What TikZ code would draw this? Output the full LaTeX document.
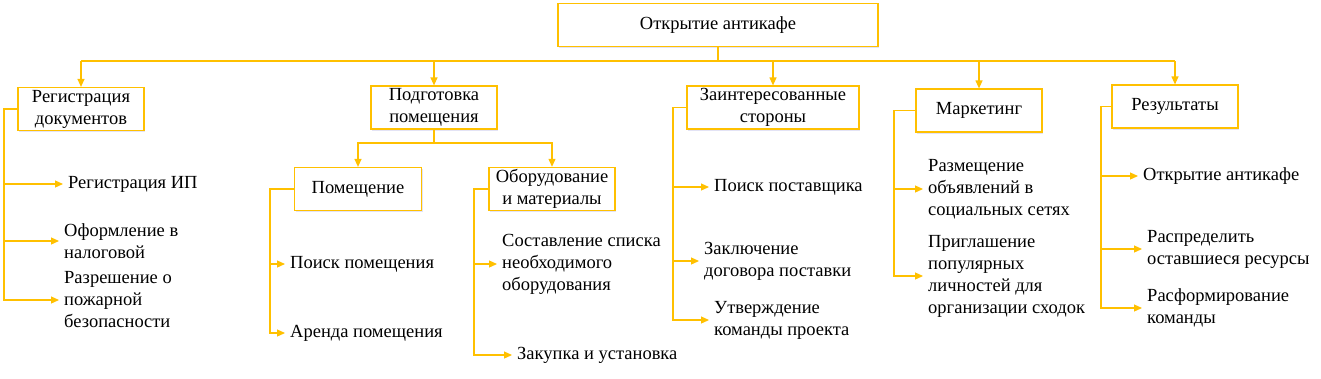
\documentclass[tikz,border=0pt]{standalone}
\usepackage{fontspec}
\setmainfont{Liberation Serif}
\usetikzlibrary{arrows.meta,shadows}
\definecolor{gold}{HTML}{FFC000}

\begin{document}
\begin{tikzpicture}[x=1pt, y=-1pt,
  box/.style={draw=gold, line width=1.2pt, fill=white, align=center, minimum width=#1, minimum height=43pt, inner sep=2pt, font=\fontsize{18.5}{22}\selectfont, drop shadow={shadow xshift=1pt, shadow yshift=-1.5pt, fill=blue!50!gray, opacity=0.15}},
  box/.default=126pt,
  leaf/.style={anchor=west, align=left, inner sep=0pt, font=\fontsize{18.5}{22}\selectfont},
  link/.style={draw=gold, line width=1.2pt},
  arr/.style={link, -{Triangle[length=8pt,width=7pt]}},
  tip/.style={arr, shorten >=5pt}
]
  \useasboundingbox (0,0) rectangle (1321,378);

  % Root
  \node[box=320pt] (root) at (718,25) {Открытие антикафе};
  \coordinate (bus) at (0,61);

  % Level 1
  \node[box] (reg) at (81,109) {Регистрация\\документов};
  \node[box] (prep) at (434,107.5) {Подготовка\\помещения};
  \node[box=172pt] (stake) at (773,107.5) {Заинтересованные\\стороны};
  \node[box] (mark) at (979,110.5) {Маркетинг};
  \node[box] (res) at (1175,106.5) {Результаты};

  % Level 2
  \node[box=127pt] (room) at (358,189) {Помещение};
  \node[box] (equip) at (552,189) {Оборудование\\и материалы};

  % Leaves
  \node[leaf] (ip) at (68,184) {Регистрация ИП};
  \node[leaf] (tax) at (64,241) {Оформление в\\налоговой};
  \node[leaf] (fire) at (64,300) {Разрешение о\\пожарной\\безопасности};
  \node[leaf] (search) at (290,264) {Поиск помещения};
  \node[leaf] (rent) at (290,333) {Аренда помещения};
  \node[leaf] (list) at (502,264) {Составление списка\\необходимого\\оборудования};
  \node[leaf] (buy) at (517,355) {Закупка и установка};
  \node[leaf] (supp) at (714,187) {Поиск поставщика};
  \node[leaf] (contr) at (704,261) {Заключение\\договора поставки};
  \node[leaf] (team) at (714,320) {Утверждение\\команды проекта};
  \node[leaf] (ads) at (928,189) {Размещение\\объявлений в\\социальных сетях};
  \node[leaf] (celeb) at (928,276) {Приглашение\\популярных\\личностей для\\организации сходок};
  \node[leaf] (open) at (1143,176) {Открытие антикафе};
  \node[leaf] (distr) at (1147,249) {Распределить\\оставшиеся ресурсы};
  \node[leaf] (dism) at (1147,308) {Расформирование\\команды};

  % Trunks
  \coordinate (regT) at (4,109);
  \coordinate (prepB) at (434,143);
  \coordinate (roomT) at (270,189);
  \coordinate (equipT) at (474,189);
  \coordinate (stakeT) at (673,107.5);
  \coordinate (markT) at (894,110.5);
  \coordinate (resT) at (1101,106.5);

  % Bus
  \draw[link] (root.south) -- (root.south |- bus);
  \draw[link] (reg.north |- bus) -- (res.north |- bus);
  \foreach \n in {reg,prep,stake,mark,res}
    \draw[arr] (\n.north |- bus) -- (\n.north);

  % Sub-levels
  \draw[arr] (prep.south) -- (prepB) -| (room.north);
  \draw[arr] (prep.south) -- (prepB) -| (equip.north);
  \foreach \n in {ip,tax,fire} \draw[tip] (reg.west) -- (regT) |- (\n.west);
  \foreach \n in {search,rent} \draw[tip] (room.west) -- (roomT) |- (\n.west);
  \foreach \n in {list,buy} \draw[tip] (equip.west) -- (equipT) |- (\n.west);
  \foreach \n in {supp,contr,team} \draw[tip] (stake.west) -- (stakeT) |- (\n.west);
  \foreach \n in {ads,celeb} \draw[tip] (mark.west) -- (markT) |- (\n.west);
  \foreach \n in {open,distr,dism} \draw[tip] (res.west) -- (resT) |- (\n.west);
\end{tikzpicture}
\end{document}
